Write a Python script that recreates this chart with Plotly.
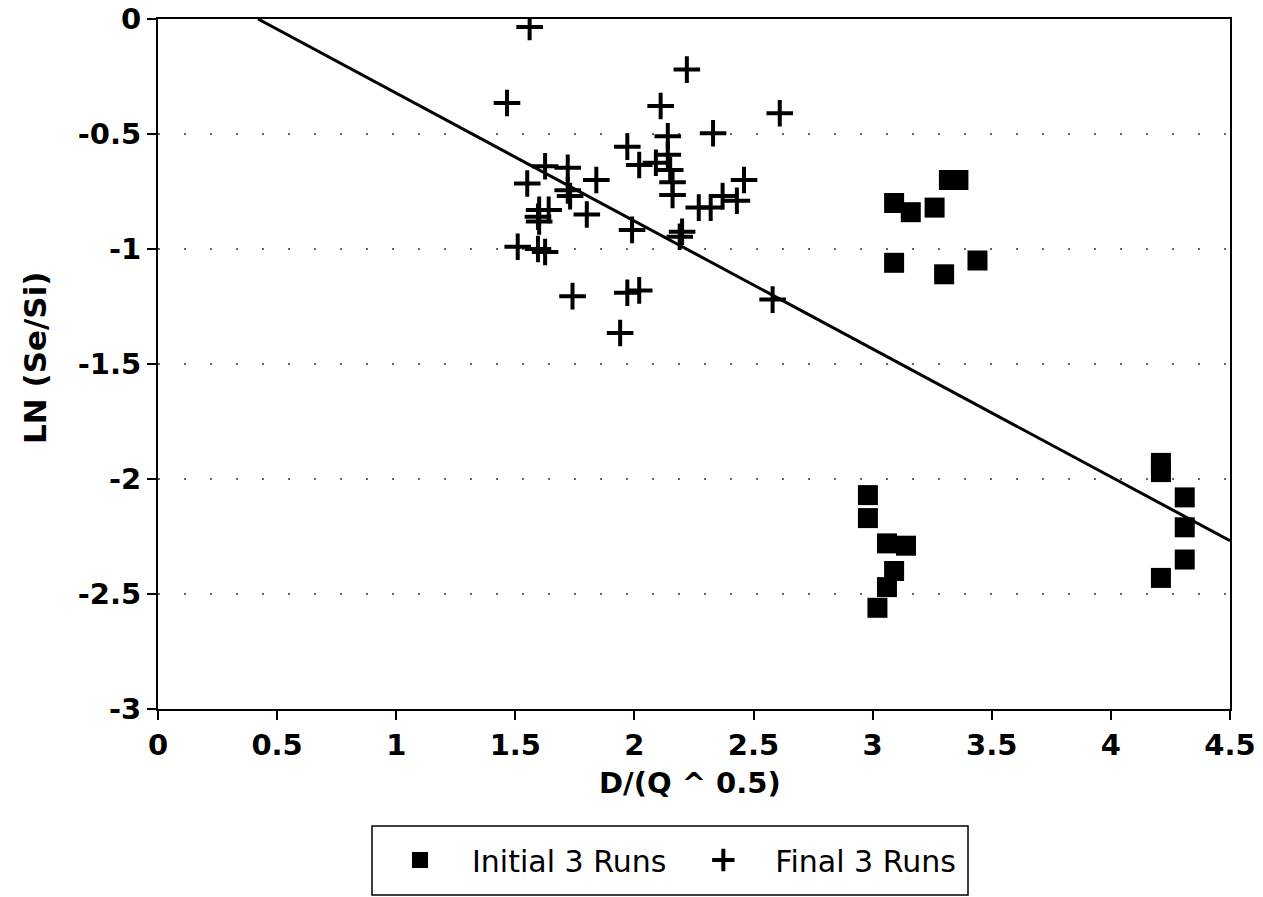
import plotly.graph_objects as go

# ---- data ----
initial_x = [3.32, 3.36, 3.09, 3.16, 3.26, 3.09, 3.30, 3.44,
             2.98, 2.98, 3.06, 3.14, 3.09, 3.06, 3.02,
             4.21, 4.21, 4.31, 4.31, 4.31, 4.21]
initial_y = [-0.70, -0.70, -0.80, -0.84, -0.82, -1.06, -1.11, -1.05,
             -2.07, -2.17, -2.28, -2.29, -2.40, -2.47, -2.56,
             -1.93, -1.97, -2.08, -2.21, -2.35, -2.43]

final_x = [1.56, 2.22, 1.465, 2.11, 2.61, 2.14, 2.33, 1.97, 2.14, 1.625,
           1.72, 2.02, 2.09, 2.15, 2.16, 2.16, 1.55, 1.72, 1.73, 1.84,
           2.46, 2.37, 2.43, 2.27, 2.32, 1.60, 1.64, 1.595, 1.60, 1.80,
           1.99, 2.20, 2.19, 1.51, 1.595, 1.625, 1.74, 1.97, 2.02, 2.58, 1.94]
final_y = [-0.035, -0.22, -0.365, -0.378, -0.41, -0.51, -0.497, -0.555, -0.59, -0.64,
           -0.647, -0.635, -0.625, -0.657, -0.71, -0.765, -0.715, -0.745, -0.77, -0.70,
           -0.70, -0.77, -0.79, -0.82, -0.82, -0.83, -0.83, -0.86, -0.88, -0.85,
           -0.917, -0.925, -0.947, -0.99, -1.0, -1.013, -1.205, -1.19, -1.18, -1.22, -1.365]

fit_slope = -0.556
fit_intercept = 0.2335
fit_x = [0.42, 4.5]
fit_y = [fit_intercept + fit_slope * v for v in fit_x]

x_ticks = [0, 0.5, 1, 1.5, 2, 2.5, 3, 3.5, 4, 4.5]
x_labels = ["0", "0.5", "1", "1.5", "2", "2.5", "3", "3.5", "4", "4.5"]
y_ticks = [0, -0.5, -1, -1.5, -2, -2.5, -3]
y_labels = ["0", "-0.5", "-1", "-1.5", "-2", "-2.5", "-3"]

fig = go.Figure()
fig.add_trace(go.Scatter(
    x=fit_x, y=fit_y, mode="lines", showlegend=False,
    line=dict(color="black", width=3), hoverinfo="skip"))
fig.add_trace(go.Scatter(
    x=initial_x, y=initial_y, mode="markers", name="Initial 3 Runs",
    marker=dict(symbol="square", size=20, color="black")))
fig.add_trace(go.Scatter(
    x=final_x, y=final_y, mode="markers", name="Final 3 Runs",
    marker=dict(symbol="cross-thin", size=19, color="black",
                line=dict(color="black", width=4))))

L, R, T, B = 158, 33, 19, 188
W, H = 1263, 897
pw, ph = W - L - R, H - T - B

def px_x(p):
    return (p - L) / pw

def px_y(p):
    return (H - B - p) / ph

tick_font = dict(family="DejaVu Sans", size=29, color="black", weight="bold")

fig.update_layout(
    width=W, height=H,
    margin=dict(l=L, r=R, t=T, b=B, autoexpand=False),
    paper_bgcolor="white", plot_bgcolor="white",
    font=dict(family="DejaVu Sans", color="black"),
    xaxis=dict(range=[0, 4.5], tickvals=x_ticks, ticktext=x_labels,
               showgrid=False, zeroline=False,
               showline=True, linecolor="black", linewidth=2, mirror=True,
               ticks="outside", ticklen=9, tickwidth=2, tickcolor="black",
               tickfont=tick_font),
    yaxis=dict(range=[-3, 0], tickvals=y_ticks, ticktext=y_labels,
               showgrid=True, gridcolor="#666", gridwidth=1.5, griddash="2px,24px",
               zeroline=False,
               showline=True, linecolor="black", linewidth=2, mirror=True,
               ticks="outside", ticklen=9, tickwidth=2, tickcolor="black",
               tickfont=tick_font),
    showlegend=True,
    legend=dict(orientation="h", x=px_x(368), xanchor="left",
                y=px_y(834), yanchor="top",
                itemwidth=94, borderwidth=0, bgcolor="rgba(0,0,0,0)",
                font=dict(family="DejaVu Sans", size=30, color="black")),
    annotations=[
        dict(text="<b>D/(Q ^ 0.5)</b>", xref="paper", yref="paper",
             x=px_x(690), y=px_y(783), xanchor="center", yanchor="middle",
             showarrow=False, font=dict(family="DejaVu Sans", size=29, color="black")),
        dict(text="<b>LN (Se/Si)</b>", xref="paper", yref="paper",
             x=px_x(35), y=px_y(358), xanchor="center", yanchor="middle",
             textangle=-90, showarrow=False,
             font=dict(family="DejaVu Sans", size=31, color="black")),
    ],
    shapes=[dict(type="rect", xref="paper", yref="paper",
                 x0=px_x(372), x1=px_x(968), y0=px_y(895), y1=px_y(826),
                 line=dict(color="black", width=1.5))],
)

fig.write_html("out.html")
